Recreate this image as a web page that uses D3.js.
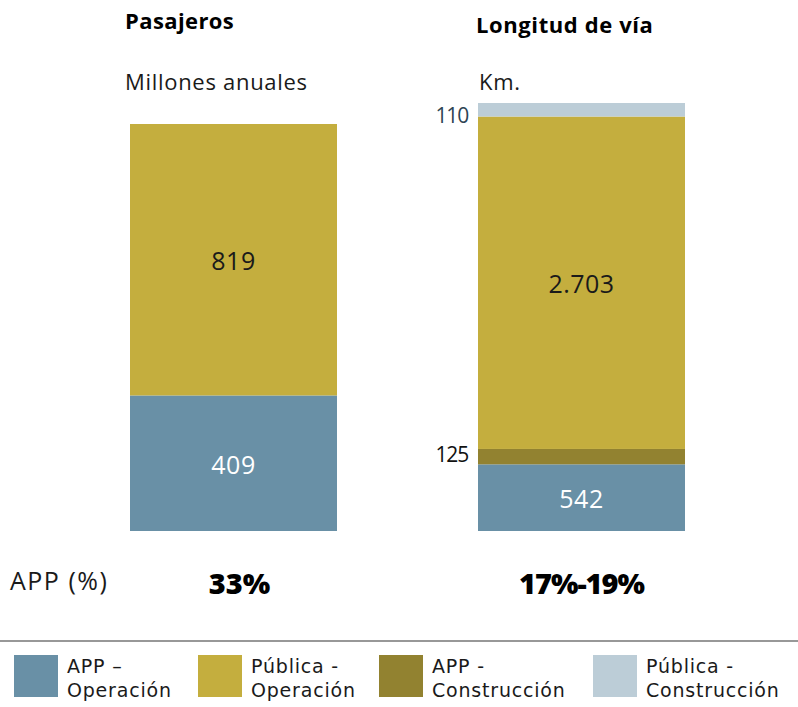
<!DOCTYPE html>
<html>
<head>
<meta charset="utf-8">
<script src="https://cdn.jsdelivr.net/npm/d3@7/dist/d3.min.js"></script>
<style>
  html, body { margin: 0; padding: 0; background: #fff; }
  svg { display: block; font-family: "Open Sans", "DejaVu Sans", sans-serif; }
  .legend-text { font-family: "DejaVu Sans", "Open Sans", sans-serif; }
</style>
</head>
<body>
<svg id="chart" width="798" height="707"></svg>
<script>
// Panels and stacked segments
const panels = ["Pasajeros", "Longitud de vía"];
const units = ["Millones anuales", "Km."];
const shares = ["33%", "17%-19%"];
const seriesKeys = ["APP – Operación", "Pública - Operación", "APP - Construcción", "Pública - Construcción"];
// bottom-to-top order of the stacked segments
const stackOrder = ["APP – Operación", "APP - Construcción", "Pública - Operación", "Pública - Construcción"];
const pasajerosValues = [409, 819, 0, 0];
const longitudValues = [542, 2703, 125, 110];
const valueLabels = [["409", "819", "", ""], ["542", "2.703", "125", "110"]];
const legendLines = [["APP –", "Operación"], ["Pública -", "Operación"], ["APP -", "Construcción"], ["Pública -", "Construcción"]];

const colors = d3.scaleOrdinal()
  .domain(seriesKeys)
  .range(["#6990a6", "#c4ae3e", "#928230", "#bccdd7"]);

const svg = d3.select("#chart");
const baseY = 531;

const x = d3.scaleBand()
  .domain(panels)
  .range([130, 685])
  .paddingInner(141 / 348)
  .paddingOuter(0);

const panelData = [pasajerosValues, longitudValues];
const panelTops = [124, 103];

panels.forEach((name, pi) => {
  const vals = panelData[pi];
  const total = d3.sum(vals);
  const y = d3.scaleLinear().domain([0, total]).range([baseY, panelTops[pi]]);
  const row = {};
  seriesKeys.forEach((k, i) => row[k] = vals[i]);
  const stacked = d3.stack().keys(stackOrder)([row]);
  const g = svg.append("g");
  const x0 = x(name), bw = x.bandwidth();

  stacked.forEach(s => {
    const d = s[0];
    if (d[1] - d[0] <= 0) return;
    g.append("rect")
      .attr("x", x0)
      .attr("width", bw)
      .attr("y", y(d[1]))
      .attr("height", y(d[0]) - y(d[1]))
      .attr("fill", colors(s.key));
  });

  stacked.forEach((s, si) => {
    const d = s[0];
    const ki = seriesKeys.indexOf(s.key);
    const label = valueLabels[pi][ki];
    if (!label) return;
    const h = y(d[0]) - y(d[1]);
    const thin = h < 30;
    const isTop = si === stacked.length - 1;
    // thin segments are labelled beside the bar; the top one at its lower edge
    const ly = thin ? (isTop ? y(d[0]) - 1 : (y(d[0]) + y(d[1])) / 2 - 2) : (y(d[0]) + y(d[1])) / 2 + 2;
    g.append("text")
      .attr("x", thin ? x0 - 10 : x0 + bw / 2)
      .attr("y", ly)
      .attr("dy", "0.35em")
      .attr("text-anchor", thin ? "end" : "middle")
      .attr("font-size", thin ? 21 : 25)
      .attr("letter-spacing", thin ? -1.2 : 0.5)
      .attr("fill", thin ? (ki === 3 ? "#2c4454" : "#111") : (ki === 0 ? "#ffffff" : "#1a1a1a"))
      .text(label);
  });

  // panel title and unit
  svg.append("text")
    .attr("x", pi === 0 ? x0 - 5 : x0 - 2)
    .attr("y", pi === 0 ? 29 : 33)
    .attr("font-size", 22)
    .attr("font-weight", 700)
    .attr("letter-spacing", pi === 0 ? 0.4 : 0.6)
    .attr("fill", "#000")
    .text(name);
  svg.append("text")
    .attr("x", pi === 0 ? x0 - 5 : x0 + 1)
    .attr("y", 90)
    .attr("font-size", 22)
    .attr("letter-spacing", 0.7)
    .attr("fill", "#1a1a1a")
    .text(units[pi]);

  // APP share
  svg.append("text")
    .attr("x", x0 + bw / 2 + (pi === 0 ? 6 : 0))
    .attr("y", 594)
    .attr("text-anchor", "middle")
    .attr("font-size", 29)
    .attr("font-weight", 800)
    .attr("letter-spacing", pi === 0 ? 0 : -1)
    .attr("fill", "#000")
    .text(shares[pi]);
});

svg.append("text")
  .attr("x", 10)
  .attr("y", 590)
  .attr("font-size", 25)
  .attr("letter-spacing", 1.5)
  .attr("fill", "#1a1a1a")
  .text("APP (%)");

// divider above legend
svg.append("line")
  .attr("x1", 0).attr("x2", 798)
  .attr("y1", 641).attr("y2", 641)
  .attr("stroke", "#333").attr("stroke-width", 1.2);

// legend
const legendX = [14, 198, 379, 593];
const legend = svg.append("g");
seriesKeys.forEach((k, i) => {
  const lg = legend.append("g").attr("transform", `translate(${legendX[i]},0)`);
  lg.append("rect")
    .attr("x", 0).attr("y", 655)
    .attr("width", 44).attr("height", 42)
    .attr("fill", colors(k));
  lg.selectAll("text")
    .data(legendLines[i])
    .join("text")
    .attr("class", "legend-text")
    .attr("x", 53)
    .attr("y", (d, j) => 673 + j * 24)
    .attr("font-size", 19)
    .attr("letter-spacing", 0.8)
    .attr("fill", "#1a1a1a")
    .text(d => d);
});
</script>
</body>
</html>
